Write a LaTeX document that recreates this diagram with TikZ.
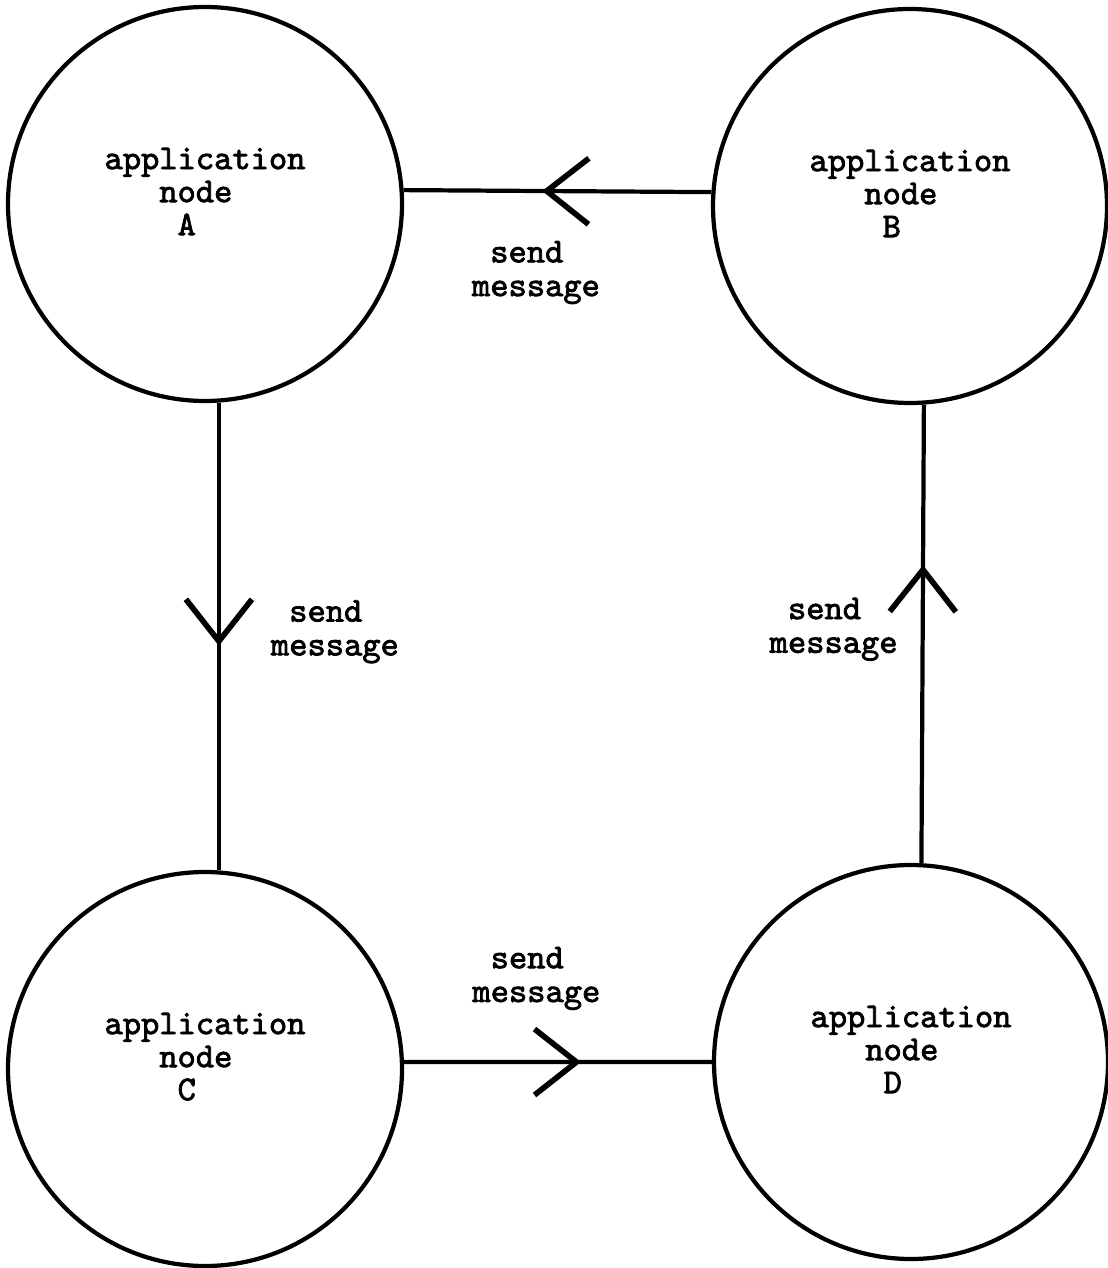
\documentclass[tikz,border=0pt]{standalone}
\usepackage{fontspec}
\newfontfamily\typefont{Latin Modern Mono}[FakeBold=2.2]
\usetikzlibrary{positioning,arrows.meta,decorations.markings}

\begin{document}
\begin{tikzpicture}[thick,
    app node/.style={circle,draw,line width=1.2pt,minimum size=3.94cm,inner sep=0pt,
        align=left,text depth=0.25cm,font=\typefont\bfseries\fontsize{9.9}{9.4}\selectfont},
    msg/.style={align=left,inner sep=1mm,font=\typefont\bfseries\fontsize{9.9}{9.6}\selectfont},
    msg line/.style={line width=1.2pt,postaction={decorate},
        decoration={markings,mark=at position #1 with
            {\arrow{Straight Barb[length=4.2mm,width=6.6mm,line width=1.6pt]}}}}]
\useasboundingbox (0,0) rectangle (11.07,-12.68);
%Nodes
    \node[app node] (A) at (2.05,-2.04) {application\\\phantom{app}node\\\phantom{appl}A};
    \node[app node] (B) at (9.10,-2.06) {application\\\phantom{app}node\\\phantom{appl}B};
    \node[app node] (C) at (2.05,-10.69) {application\\\phantom{app}node\\\phantom{appl}C};
    \node[app node] (D) at (9.11,-10.62) {application\\\phantom{app}node\\\phantom{appl}D};

    \draw[msg line=0.55] (B.176) -- node[msg,pos=0.57,below=3.8mm] {\phantom{m}send\\message} (A.4);
    \draw[msg line=0.52] (A.-86) -- node[msg,pos=0.49,right=4mm] {\phantom{m}send\\message} (C.86);
    \draw[msg line=0.575] (C.2) -- node[msg,pos=0.43,above=4mm] {\phantom{m}send\\message} (D.180);
    \draw[msg line=0.65] (D.87) -- node[msg,pos=0.51,left=1.3mm] {\phantom{m}send\\message} (B.-86);
\end{tikzpicture}
\end{document}
